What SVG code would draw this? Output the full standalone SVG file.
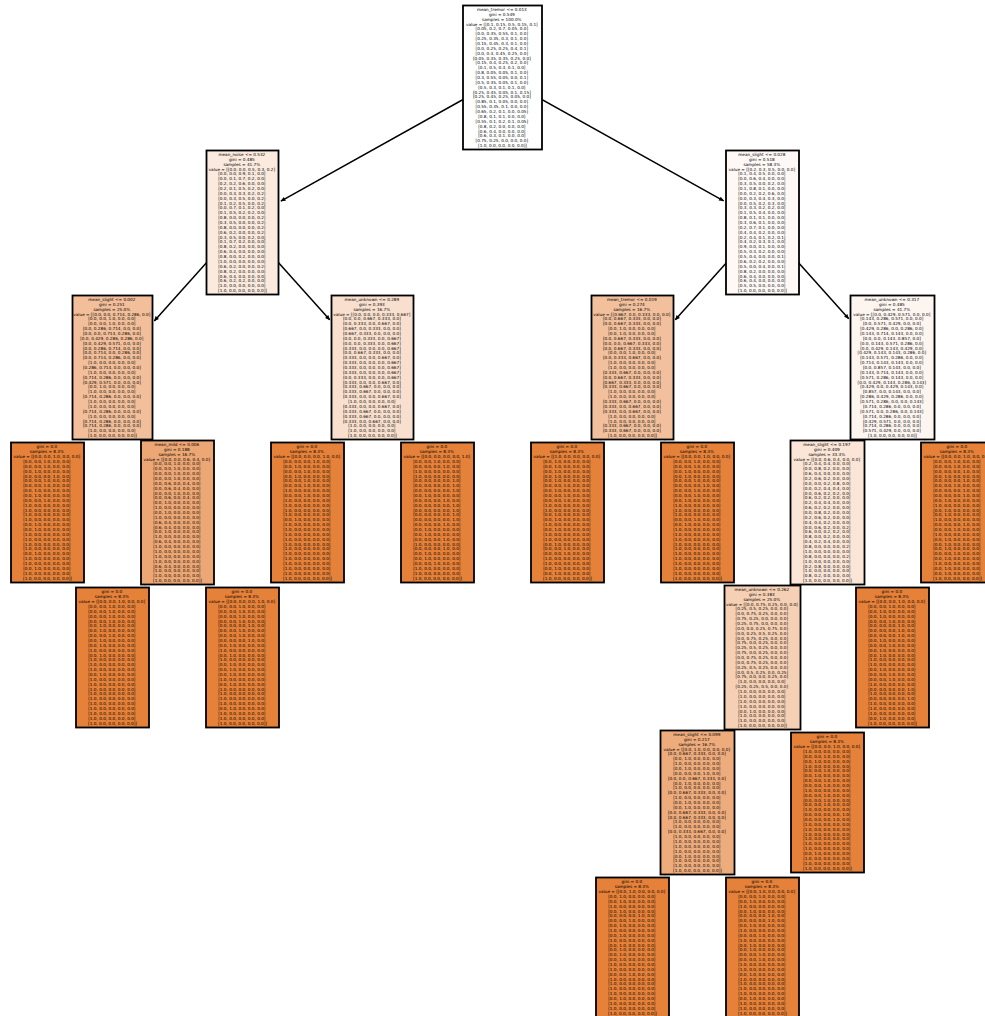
<svg xmlns="http://www.w3.org/2000/svg" width="985" height="1016" viewBox="0 0 985 1016">
<defs>
<style>
.box{stroke:#000;stroke-width:1.8}
.leaf{fill:#e58139}
.lbl{font-family:"DejaVu Sans","Liberation Sans",sans-serif;font-size:4.2px;text-anchor:middle;fill:#000}
.edge{stroke:#000;stroke-width:1.5;fill:none;marker-end:url(#head)}
</style>
<marker id="head" viewBox="-6 -3 7 6" refX="0" refY="0" markerWidth="7" markerHeight="6" markerUnits="userSpaceOnUse" orient="auto">
<path d="M-4.5,-2.2 L0.5,0 L-4.5,2.2 Z" fill="#000"/>
</marker>
</defs>
<rect width="985" height="1016" fill="#fff"/>

<!-- connectors: drawn first so that parent boxes cover their starting points -->
<g id="edges">
<path class="edge" d="M502.5,77.5 L280.9,201.1"/>
<path class="edge" d="M502.5,77.5 L723.6,200.8"/>
<path class="edge" d="M242.5,222.5 L154.3,320.9"/>
<path class="edge" d="M242.5,222.5 L329.7,319.8"/>
<path class="edge" d="M762.5,222.5 L675.3,319.8"/>
<path class="edge" d="M762.5,222.5 L848.7,318.7"/>
<path class="edge" d="M112.5,367.5 L80,440"/>
<path class="edge" d="M112.5,367.5 L144.1,438"/>
<path class="edge" d="M372.5,367.5 L340,440"/>
<path class="edge" d="M372.5,367.5 L405,440"/>
<path class="edge" d="M632.5,367.5 L600,440"/>
<path class="edge" d="M632.5,367.5 L665,440"/>
<path class="edge" d="M892.5,367.5 L860.9,438"/>
<path class="edge" d="M892.5,367.5 L925,440"/>
<path class="edge" d="M177.5,512.5 L145,585"/>
<path class="edge" d="M177.5,512.5 L210,585"/>
<path class="edge" d="M827.5,512.5 L795.9,583"/>
<path class="edge" d="M827.5,512.5 L860,585"/>
<path class="edge" d="M762.5,657.5 L730.9,728"/>
<path class="edge" d="M762.5,657.5 L795,730"/>
<path class="edge" d="M697.5,802.5 L665,875"/>
<path class="edge" d="M697.5,802.5 L730,875"/>
</g>

<g id="node-0">
<rect class="box" x="463" y="5.5" width="79" height="144" fill="#ffffff"/>
<text class="lbl">
<tspan x="502.5" y="11">mean_tremor &lt;= 0.013</tspan>
<tspan x="502.5" dy="4.86">gini = 0.549</tspan>
<tspan x="502.5" dy="4.86">samples = 100.0%</tspan>
<tspan x="502.5" dy="4.86">value = [[0.1, 0.15, 0.5, 0.15, 0.1]</tspan>
<tspan x="502.5" dy="4.86">[0.05, 0.2, 0.7, 0.05, 0.0]</tspan>
<tspan x="502.5" dy="4.86">[0.0, 0.35, 0.55, 0.1, 0.0]</tspan>
<tspan x="502.5" dy="4.86">[0.25, 0.35, 0.3, 0.1, 0.0]</tspan>
<tspan x="502.5" dy="4.86">[0.15, 0.45, 0.3, 0.1, 0.0]</tspan>
<tspan x="502.5" dy="4.86">[0.0, 0.25, 0.25, 0.4, 0.1]</tspan>
<tspan x="502.5" dy="4.86">[0.0, 0.3, 0.45, 0.25, 0.0]</tspan>
<tspan x="502.5" dy="4.86">[0.05, 0.35, 0.35, 0.25, 0.0]</tspan>
<tspan x="502.5" dy="4.86">[0.15, 0.4, 0.25, 0.2, 0.0]</tspan>
<tspan x="502.5" dy="4.86">[0.1, 0.5, 0.3, 0.1, 0.0]</tspan>
<tspan x="502.5" dy="4.86">[0.8, 0.05, 0.05, 0.1, 0.0]</tspan>
<tspan x="502.5" dy="4.86">[0.3, 0.55, 0.05, 0.0, 0.1]</tspan>
<tspan x="502.5" dy="4.86">[0.5, 0.35, 0.05, 0.1, 0.0]</tspan>
<tspan x="502.5" dy="4.86">[0.5, 0.3, 0.1, 0.1, 0.0]</tspan>
<tspan x="502.5" dy="4.86">[0.25, 0.45, 0.05, 0.1, 0.15]</tspan>
<tspan x="502.5" dy="4.86">[0.25, 0.45, 0.25, 0.05, 0.0]</tspan>
<tspan x="502.5" dy="4.86">[0.85, 0.1, 0.05, 0.0, 0.0]</tspan>
<tspan x="502.5" dy="4.86">[0.55, 0.35, 0.1, 0.0, 0.0]</tspan>
<tspan x="502.5" dy="4.86">[0.65, 0.2, 0.1, 0.0, 0.05]</tspan>
<tspan x="502.5" dy="4.86">[0.8, 0.1, 0.1, 0.0, 0.0]</tspan>
<tspan x="502.5" dy="4.86">[0.55, 0.1, 0.2, 0.1, 0.05]</tspan>
<tspan x="502.5" dy="4.86">[0.8, 0.2, 0.0, 0.0, 0.0]</tspan>
<tspan x="502.5" dy="4.86">[0.6, 0.4, 0.0, 0.0, 0.0]</tspan>
<tspan x="502.5" dy="4.86">[0.6, 0.3, 0.1, 0.0, 0.0]</tspan>
<tspan x="502.5" dy="4.86">[0.75, 0.25, 0.0, 0.0, 0.0]</tspan>
<tspan x="502.5" dy="4.86">[1.0, 0.0, 0.0, 0.0, 0.0]]</tspan>
</text>
</g>

<g id="node-1">
<rect class="box" x="206.5" y="150.5" width="72" height="144" fill="#fbeade"/>
<text class="lbl">
<tspan x="242.5" y="156">mean_noise &lt;= 0.532</tspan>
<tspan x="242.5" dy="4.86">gini = 0.485</tspan>
<tspan x="242.5" dy="4.86">samples = 41.7%</tspan>
<tspan x="242.5" dy="4.86">value = [[0.0, 0.0, 0.5, 0.3, 0.2]</tspan>
<tspan x="242.5" dy="4.86">[0.0, 0.0, 0.9, 0.1, 0.0]</tspan>
<tspan x="242.5" dy="4.86">[0.0, 0.1, 0.7, 0.2, 0.0]</tspan>
<tspan x="242.5" dy="4.86">[0.2, 0.2, 0.6, 0.0, 0.0]</tspan>
<tspan x="242.5" dy="4.86">[0.2, 0.1, 0.5, 0.2, 0.0]</tspan>
<tspan x="242.5" dy="4.86">[0.0, 0.3, 0.3, 0.2, 0.2]</tspan>
<tspan x="242.5" dy="4.86">[0.0, 0.3, 0.5, 0.0, 0.2]</tspan>
<tspan x="242.5" dy="4.86">[0.1, 0.2, 0.5, 0.0, 0.2]</tspan>
<tspan x="242.5" dy="4.86">[0.0, 0.7, 0.1, 0.2, 0.0]</tspan>
<tspan x="242.5" dy="4.86">[0.1, 0.5, 0.2, 0.2, 0.0]</tspan>
<tspan x="242.5" dy="4.86">[0.8, 0.0, 0.0, 0.0, 0.2]</tspan>
<tspan x="242.5" dy="4.86">[0.3, 0.5, 0.0, 0.0, 0.2]</tspan>
<tspan x="242.5" dy="4.86">[0.8, 0.0, 0.0, 0.0, 0.2]</tspan>
<tspan x="242.5" dy="4.86">[0.6, 0.2, 0.0, 0.0, 0.2]</tspan>
<tspan x="242.5" dy="4.86">[0.3, 0.5, 0.0, 0.2, 0.0]</tspan>
<tspan x="242.5" dy="4.86">[0.1, 0.7, 0.2, 0.0, 0.0]</tspan>
<tspan x="242.5" dy="4.86">[0.8, 0.2, 0.0, 0.0, 0.0]</tspan>
<tspan x="242.5" dy="4.86">[0.6, 0.4, 0.0, 0.0, 0.0]</tspan>
<tspan x="242.5" dy="4.86">[0.8, 0.0, 0.2, 0.0, 0.0]</tspan>
<tspan x="242.5" dy="4.86">[1.0, 0.0, 0.0, 0.0, 0.0]</tspan>
<tspan x="242.5" dy="4.86">[0.6, 0.2, 0.0, 0.0, 0.2]</tspan>
<tspan x="242.5" dy="4.86">[0.8, 0.2, 0.0, 0.0, 0.0]</tspan>
<tspan x="242.5" dy="4.86">[0.6, 0.4, 0.0, 0.0, 0.0]</tspan>
<tspan x="242.5" dy="4.86">[0.6, 0.2, 0.2, 0.0, 0.0]</tspan>
<tspan x="242.5" dy="4.86">[1.0, 0.0, 0.0, 0.0, 0.0]</tspan>
<tspan x="242.5" dy="4.86">[1.0, 0.0, 0.0, 0.0, 0.0]]</tspan>
</text>
</g>

<g id="node-2">
<rect class="box" x="726" y="150.5" width="73" height="144" fill="#fef9f6"/>
<text class="lbl">
<tspan x="762.5" y="156">mean_slight &lt;= 0.028</tspan>
<tspan x="762.5" dy="4.86">gini = 0.518</tspan>
<tspan x="762.5" dy="4.86">samples = 58.3%</tspan>
<tspan x="762.5" dy="4.86">value = [[0.2, 0.3, 0.5, 0.0, 0.0]</tspan>
<tspan x="762.5" dy="4.86">[0.1, 0.4, 0.5, 0.0, 0.0]</tspan>
<tspan x="762.5" dy="4.86">[0.0, 0.6, 0.4, 0.0, 0.0]</tspan>
<tspan x="762.5" dy="4.86">[0.3, 0.5, 0.0, 0.2, 0.0]</tspan>
<tspan x="762.5" dy="4.86">[0.1, 0.8, 0.1, 0.0, 0.0]</tspan>
<tspan x="762.5" dy="4.86">[0.0, 0.2, 0.2, 0.6, 0.0]</tspan>
<tspan x="762.5" dy="4.86">[0.0, 0.3, 0.4, 0.3, 0.0]</tspan>
<tspan x="762.5" dy="4.86">[0.0, 0.5, 0.2, 0.3, 0.0]</tspan>
<tspan x="762.5" dy="4.86">[0.3, 0.3, 0.2, 0.2, 0.0]</tspan>
<tspan x="762.5" dy="4.86">[0.1, 0.5, 0.4, 0.0, 0.0]</tspan>
<tspan x="762.5" dy="4.86">[0.8, 0.1, 0.1, 0.0, 0.0]</tspan>
<tspan x="762.5" dy="4.86">[0.3, 0.6, 0.1, 0.0, 0.0]</tspan>
<tspan x="762.5" dy="4.86">[0.2, 0.7, 0.1, 0.0, 0.0]</tspan>
<tspan x="762.5" dy="4.86">[0.4, 0.4, 0.2, 0.0, 0.0]</tspan>
<tspan x="762.5" dy="4.86">[0.2, 0.4, 0.1, 0.2, 0.1]</tspan>
<tspan x="762.5" dy="4.86">[0.4, 0.2, 0.3, 0.1, 0.0]</tspan>
<tspan x="762.5" dy="4.86">[0.9, 0.0, 0.1, 0.0, 0.0]</tspan>
<tspan x="762.5" dy="4.86">[0.5, 0.3, 0.2, 0.0, 0.0]</tspan>
<tspan x="762.5" dy="4.86">[0.5, 0.4, 0.0, 0.0, 0.1]</tspan>
<tspan x="762.5" dy="4.86">[0.6, 0.2, 0.2, 0.0, 0.0]</tspan>
<tspan x="762.5" dy="4.86">[0.5, 0.0, 0.4, 0.0, 0.1]</tspan>
<tspan x="762.5" dy="4.86">[0.8, 0.2, 0.0, 0.0, 0.0]</tspan>
<tspan x="762.5" dy="4.86">[0.6, 0.4, 0.0, 0.0, 0.0]</tspan>
<tspan x="762.5" dy="4.86">[0.6, 0.4, 0.0, 0.0, 0.0]</tspan>
<tspan x="762.5" dy="4.86">[0.5, 0.5, 0.0, 0.0, 0.0]</tspan>
<tspan x="762.5" dy="4.86">[1.0, 0.0, 0.0, 0.0, 0.0]]</tspan>
</text>
</g>

<g id="node-3">
<rect class="box" x="72.5" y="295.5" width="80" height="144" fill="#f2bf9a"/>
<text class="lbl">
<tspan x="112.5" y="301">mean_slight &lt;= 0.002</tspan>
<tspan x="112.5" dy="4.86">gini = 0.251</tspan>
<tspan x="112.5" dy="4.86">samples = 25.0%</tspan>
<tspan x="112.5" dy="4.86">value = [[0.0, 0.0, 0.714, 0.286, 0.0]</tspan>
<tspan x="112.5" dy="4.86">[0.0, 0.0, 1.0, 0.0, 0.0]</tspan>
<tspan x="112.5" dy="4.86">[0.0, 0.0, 1.0, 0.0, 0.0]</tspan>
<tspan x="112.5" dy="4.86">[0.0, 0.286, 0.714, 0.0, 0.0]</tspan>
<tspan x="112.5" dy="4.86">[0.0, 0.0, 0.714, 0.286, 0.0]</tspan>
<tspan x="112.5" dy="4.86">[0.0, 0.429, 0.286, 0.286, 0.0]</tspan>
<tspan x="112.5" dy="4.86">[0.0, 0.429, 0.571, 0.0, 0.0]</tspan>
<tspan x="112.5" dy="4.86">[0.0, 0.286, 0.714, 0.0, 0.0]</tspan>
<tspan x="112.5" dy="4.86">[0.0, 0.714, 0.0, 0.286, 0.0]</tspan>
<tspan x="112.5" dy="4.86">[0.0, 0.714, 0.286, 0.0, 0.0]</tspan>
<tspan x="112.5" dy="4.86">[1.0, 0.0, 0.0, 0.0, 0.0]</tspan>
<tspan x="112.5" dy="4.86">[0.286, 0.714, 0.0, 0.0, 0.0]</tspan>
<tspan x="112.5" dy="4.86">[1.0, 0.0, 0.0, 0.0, 0.0]</tspan>
<tspan x="112.5" dy="4.86">[0.714, 0.286, 0.0, 0.0, 0.0]</tspan>
<tspan x="112.5" dy="4.86">[0.429, 0.571, 0.0, 0.0, 0.0]</tspan>
<tspan x="112.5" dy="4.86">[0.0, 1.0, 0.0, 0.0, 0.0]</tspan>
<tspan x="112.5" dy="4.86">[1.0, 0.0, 0.0, 0.0, 0.0]</tspan>
<tspan x="112.5" dy="4.86">[0.714, 0.286, 0.0, 0.0, 0.0]</tspan>
<tspan x="112.5" dy="4.86">[1.0, 0.0, 0.0, 0.0, 0.0]</tspan>
<tspan x="112.5" dy="4.86">[1.0, 0.0, 0.0, 0.0, 0.0]</tspan>
<tspan x="112.5" dy="4.86">[0.714, 0.286, 0.0, 0.0, 0.0]</tspan>
<tspan x="112.5" dy="4.86">[1.0, 0.0, 0.0, 0.0, 0.0]</tspan>
<tspan x="112.5" dy="4.86">[0.714, 0.286, 0.0, 0.0, 0.0]</tspan>
<tspan x="112.5" dy="4.86">[0.714, 0.286, 0.0, 0.0, 0.0]</tspan>
<tspan x="112.5" dy="4.86">[1.0, 0.0, 0.0, 0.0, 0.0]</tspan>
<tspan x="112.5" dy="4.86">[1.0, 0.0, 0.0, 0.0, 0.0]]</tspan>
</text>
</g>

<g id="node-4">
<rect class="box" x="331.5" y="295.5" width="82" height="144" fill="#f9e0ce"/>
<text class="lbl">
<tspan x="372.5" y="301">mean_unknown &lt;= 0.289</tspan>
<tspan x="372.5" dy="4.86">gini = 0.393</tspan>
<tspan x="372.5" dy="4.86">samples = 16.7%</tspan>
<tspan x="372.5" dy="4.86">value = [[0.0, 0.0, 0.0, 0.333, 0.667]</tspan>
<tspan x="372.5" dy="4.86">[0.0, 0.0, 0.667, 0.333, 0.0]</tspan>
<tspan x="372.5" dy="4.86">[0.0, 0.333, 0.0, 0.667, 0.0]</tspan>
<tspan x="372.5" dy="4.86">[0.667, 0.0, 0.333, 0.0, 0.0]</tspan>
<tspan x="372.5" dy="4.86">[0.667, 0.333, 0.0, 0.0, 0.0]</tspan>
<tspan x="372.5" dy="4.86">[0.0, 0.0, 0.333, 0.0, 0.667]</tspan>
<tspan x="372.5" dy="4.86">[0.0, 0.0, 0.333, 0.0, 0.667]</tspan>
<tspan x="372.5" dy="4.86">[0.333, 0.0, 0.0, 0.0, 0.667]</tspan>
<tspan x="372.5" dy="4.86">[0.0, 0.667, 0.333, 0.0, 0.0]</tspan>
<tspan x="372.5" dy="4.86">[0.333, 0.0, 0.0, 0.667, 0.0]</tspan>
<tspan x="372.5" dy="4.86">[0.333, 0.0, 0.0, 0.0, 0.667]</tspan>
<tspan x="372.5" dy="4.86">[0.333, 0.0, 0.0, 0.0, 0.667]</tspan>
<tspan x="372.5" dy="4.86">[0.333, 0.0, 0.0, 0.0, 0.667]</tspan>
<tspan x="372.5" dy="4.86">[0.0, 0.333, 0.0, 0.0, 0.667]</tspan>
<tspan x="372.5" dy="4.86">[0.333, 0.0, 0.0, 0.667, 0.0]</tspan>
<tspan x="372.5" dy="4.86">[0.333, 0.667, 0.0, 0.0, 0.0]</tspan>
<tspan x="372.5" dy="4.86">[0.333, 0.667, 0.0, 0.0, 0.0]</tspan>
<tspan x="372.5" dy="4.86">[0.333, 0.0, 0.0, 0.667, 0.0]</tspan>
<tspan x="372.5" dy="4.86">[1.0, 0.0, 0.0, 0.0, 0.0]</tspan>
<tspan x="372.5" dy="4.86">[0.333, 0.0, 0.0, 0.667, 0.0]</tspan>
<tspan x="372.5" dy="4.86">[0.333, 0.667, 0.0, 0.0, 0.0]</tspan>
<tspan x="372.5" dy="4.86">[0.333, 0.667, 0.0, 0.0, 0.0]</tspan>
<tspan x="372.5" dy="4.86">[0.333, 0.0, 0.667, 0.0, 0.0]</tspan>
<tspan x="372.5" dy="4.86">[1.0, 0.0, 0.0, 0.0, 0.0]</tspan>
<tspan x="372.5" dy="4.86">[1.0, 0.0, 0.0, 0.0, 0.0]</tspan>
<tspan x="372.5" dy="4.86">[1.0, 0.0, 0.0, 0.0, 0.0]]</tspan>
</text>
</g>

<g id="node-5">
<rect class="box" x="591.5" y="295.5" width="82" height="144" fill="#f2c09c"/>
<text class="lbl">
<tspan x="632.5" y="301">mean_tremor &lt;= 0.019</tspan>
<tspan x="632.5" dy="4.86">gini = 0.274</tspan>
<tspan x="632.5" dy="4.86">samples = 16.7%</tspan>
<tspan x="632.5" dy="4.86">value = [[0.667, 0.0, 0.333, 0.0, 0.0]</tspan>
<tspan x="632.5" dy="4.86">[0.0, 0.667, 0.333, 0.0, 0.0]</tspan>
<tspan x="632.5" dy="4.86">[0.0, 0.667, 0.333, 0.0, 0.0]</tspan>
<tspan x="632.5" dy="4.86">[0.0, 1.0, 0.0, 0.0, 0.0]</tspan>
<tspan x="632.5" dy="4.86">[0.0, 1.0, 0.0, 0.0, 0.0]</tspan>
<tspan x="632.5" dy="4.86">[0.0, 0.667, 0.333, 0.0, 0.0]</tspan>
<tspan x="632.5" dy="4.86">[0.0, 0.0, 0.667, 0.333, 0.0]</tspan>
<tspan x="632.5" dy="4.86">[0.0, 0.667, 0.333, 0.0, 0.0]</tspan>
<tspan x="632.5" dy="4.86">[0.0, 0.0, 1.0, 0.0, 0.0]</tspan>
<tspan x="632.5" dy="4.86">[0.0, 0.333, 0.667, 0.0, 0.0]</tspan>
<tspan x="632.5" dy="4.86">[1.0, 0.0, 0.0, 0.0, 0.0]</tspan>
<tspan x="632.5" dy="4.86">[1.0, 0.0, 0.0, 0.0, 0.0]</tspan>
<tspan x="632.5" dy="4.86">[0.333, 0.667, 0.0, 0.0, 0.0]</tspan>
<tspan x="632.5" dy="4.86">[0.0, 0.667, 0.333, 0.0, 0.0]</tspan>
<tspan x="632.5" dy="4.86">[0.667, 0.333, 0.0, 0.0, 0.0]</tspan>
<tspan x="632.5" dy="4.86">[0.333, 0.667, 0.0, 0.0, 0.0]</tspan>
<tspan x="632.5" dy="4.86">[1.0, 0.0, 0.0, 0.0, 0.0]</tspan>
<tspan x="632.5" dy="4.86">[1.0, 0.0, 0.0, 0.0, 0.0]</tspan>
<tspan x="632.5" dy="4.86">[0.333, 0.667, 0.0, 0.0, 0.0]</tspan>
<tspan x="632.5" dy="4.86">[0.333, 0.0, 0.667, 0.0, 0.0]</tspan>
<tspan x="632.5" dy="4.86">[0.333, 0.0, 0.667, 0.0, 0.0]</tspan>
<tspan x="632.5" dy="4.86">[1.0, 0.0, 0.0, 0.0, 0.0]</tspan>
<tspan x="632.5" dy="4.86">[1.0, 0.0, 0.0, 0.0, 0.0]</tspan>
<tspan x="632.5" dy="4.86">[0.333, 0.667, 0.0, 0.0, 0.0]</tspan>
<tspan x="632.5" dy="4.86">[0.333, 0.667, 0.0, 0.0, 0.0]</tspan>
<tspan x="632.5" dy="4.86">[1.0, 0.0, 0.0, 0.0, 0.0]]</tspan>
</text>
</g>

<g id="node-6">
<rect class="box" x="850.5" y="295.5" width="84" height="144" fill="#fdf5f0"/>
<text class="lbl">
<tspan x="892.5" y="301">mean_unknown &lt;= 0.317</tspan>
<tspan x="892.5" dy="4.86">gini = 0.485</tspan>
<tspan x="892.5" dy="4.86">samples = 41.7%</tspan>
<tspan x="892.5" dy="4.86">value = [[0.0, 0.429, 0.571, 0.0, 0.0]</tspan>
<tspan x="892.5" dy="4.86">[0.143, 0.286, 0.571, 0.0, 0.0]</tspan>
<tspan x="892.5" dy="4.86">[0.0, 0.571, 0.429, 0.0, 0.0]</tspan>
<tspan x="892.5" dy="4.86">[0.429, 0.286, 0.0, 0.286, 0.0]</tspan>
<tspan x="892.5" dy="4.86">[0.143, 0.714, 0.143, 0.0, 0.0]</tspan>
<tspan x="892.5" dy="4.86">[0.0, 0.0, 0.143, 0.857, 0.0]</tspan>
<tspan x="892.5" dy="4.86">[0.0, 0.143, 0.571, 0.286, 0.0]</tspan>
<tspan x="892.5" dy="4.86">[0.0, 0.429, 0.143, 0.429, 0.0]</tspan>
<tspan x="892.5" dy="4.86">[0.429, 0.143, 0.143, 0.286, 0.0]</tspan>
<tspan x="892.5" dy="4.86">[0.143, 0.571, 0.286, 0.0, 0.0]</tspan>
<tspan x="892.5" dy="4.86">[0.714, 0.143, 0.143, 0.0, 0.0]</tspan>
<tspan x="892.5" dy="4.86">[0.0, 0.857, 0.143, 0.0, 0.0]</tspan>
<tspan x="892.5" dy="4.86">[0.143, 0.714, 0.143, 0.0, 0.0]</tspan>
<tspan x="892.5" dy="4.86">[0.571, 0.286, 0.143, 0.0, 0.0]</tspan>
<tspan x="892.5" dy="4.86">[0.0, 0.429, 0.143, 0.286, 0.143]</tspan>
<tspan x="892.5" dy="4.86">[0.429, 0.0, 0.429, 0.143, 0.0]</tspan>
<tspan x="892.5" dy="4.86">[0.857, 0.0, 0.143, 0.0, 0.0]</tspan>
<tspan x="892.5" dy="4.86">[0.286, 0.429, 0.286, 0.0, 0.0]</tspan>
<tspan x="892.5" dy="4.86">[0.571, 0.286, 0.0, 0.0, 0.143]</tspan>
<tspan x="892.5" dy="4.86">[0.714, 0.286, 0.0, 0.0, 0.0]</tspan>
<tspan x="892.5" dy="4.86">[0.571, 0.0, 0.286, 0.0, 0.143]</tspan>
<tspan x="892.5" dy="4.86">[0.714, 0.286, 0.0, 0.0, 0.0]</tspan>
<tspan x="892.5" dy="4.86">[0.429, 0.571, 0.0, 0.0, 0.0]</tspan>
<tspan x="892.5" dy="4.86">[0.714, 0.286, 0.0, 0.0, 0.0]</tspan>
<tspan x="892.5" dy="4.86">[0.571, 0.429, 0.0, 0.0, 0.0]</tspan>
<tspan x="892.5" dy="4.86">[1.0, 0.0, 0.0, 0.0, 0.0]]</tspan>
</text>
</g>

<g id="node-7">
<rect class="box leaf" x="11" y="442.5" width="73" height="140"/>
<text class="lbl">
<tspan x="47.5" y="448.4">gini = 0.0</tspan>
<tspan x="47.5" dy="4.86">samples = 8.3%</tspan>
<tspan x="47.5" dy="4.86">value = [[0.0, 0.0, 1.0, 0.0, 0.0]</tspan>
<tspan x="47.5" dy="4.86">[0.0, 0.0, 1.0, 0.0, 0.0]</tspan>
<tspan x="47.5" dy="4.86">[0.0, 0.0, 1.0, 0.0, 0.0]</tspan>
<tspan x="47.5" dy="4.86">[0.0, 1.0, 0.0, 0.0, 0.0]</tspan>
<tspan x="47.5" dy="4.86">[0.0, 0.0, 0.0, 1.0, 0.0]</tspan>
<tspan x="47.5" dy="4.86">[0.0, 0.0, 1.0, 0.0, 0.0]</tspan>
<tspan x="47.5" dy="4.86">[0.0, 0.0, 1.0, 0.0, 0.0]</tspan>
<tspan x="47.5" dy="4.86">[0.0, 1.0, 0.0, 0.0, 0.0]</tspan>
<tspan x="47.5" dy="4.86">[0.0, 1.0, 0.0, 0.0, 0.0]</tspan>
<tspan x="47.5" dy="4.86">[0.0, 0.0, 1.0, 0.0, 0.0]</tspan>
<tspan x="47.5" dy="4.86">[1.0, 0.0, 0.0, 0.0, 0.0]</tspan>
<tspan x="47.5" dy="4.86">[1.0, 0.0, 0.0, 0.0, 0.0]</tspan>
<tspan x="47.5" dy="4.86">[1.0, 0.0, 0.0, 0.0, 0.0]</tspan>
<tspan x="47.5" dy="4.86">[1.0, 0.0, 0.0, 0.0, 0.0]</tspan>
<tspan x="47.5" dy="4.86">[0.0, 1.0, 0.0, 0.0, 0.0]</tspan>
<tspan x="47.5" dy="4.86">[0.0, 1.0, 0.0, 0.0, 0.0]</tspan>
<tspan x="47.5" dy="4.86">[1.0, 0.0, 0.0, 0.0, 0.0]</tspan>
<tspan x="47.5" dy="4.86">[1.0, 0.0, 0.0, 0.0, 0.0]</tspan>
<tspan x="47.5" dy="4.86">[1.0, 0.0, 0.0, 0.0, 0.0]</tspan>
<tspan x="47.5" dy="4.86">[1.0, 0.0, 0.0, 0.0, 0.0]</tspan>
<tspan x="47.5" dy="4.86">[0.0, 1.0, 0.0, 0.0, 0.0]</tspan>
<tspan x="47.5" dy="4.86">[1.0, 0.0, 0.0, 0.0, 0.0]</tspan>
<tspan x="47.5" dy="4.86">[1.0, 0.0, 0.0, 0.0, 0.0]</tspan>
<tspan x="47.5" dy="4.86">[0.0, 1.0, 0.0, 0.0, 0.0]</tspan>
<tspan x="47.5" dy="4.86">[1.0, 0.0, 0.0, 0.0, 0.0]</tspan>
<tspan x="47.5" dy="4.86">[1.0, 0.0, 0.0, 0.0, 0.0]]</tspan>
</text>
</g>

<g id="node-8">
<rect class="box" x="141" y="440.5" width="73" height="144" fill="#eda774"/>
<text class="lbl">
<tspan x="177.5" y="446">mean_mild &lt;= 0.006</tspan>
<tspan x="177.5" dy="4.86">gini = 0.188</tspan>
<tspan x="177.5" dy="4.86">samples = 16.7%</tspan>
<tspan x="177.5" dy="4.86">value = [[0.0, 0.0, 0.6, 0.4, 0.0]</tspan>
<tspan x="177.5" dy="4.86">[0.0, 0.0, 1.0, 0.0, 0.0]</tspan>
<tspan x="177.5" dy="4.86">[0.0, 0.0, 1.0, 0.0, 0.0]</tspan>
<tspan x="177.5" dy="4.86">[0.0, 0.0, 1.0, 0.0, 0.0]</tspan>
<tspan x="177.5" dy="4.86">[0.0, 0.0, 1.0, 0.0, 0.0]</tspan>
<tspan x="177.5" dy="4.86">[0.0, 0.6, 0.0, 0.4, 0.0]</tspan>
<tspan x="177.5" dy="4.86">[0.0, 0.6, 0.4, 0.0, 0.0]</tspan>
<tspan x="177.5" dy="4.86">[0.0, 0.0, 1.0, 0.0, 0.0]</tspan>
<tspan x="177.5" dy="4.86">[0.0, 0.6, 0.0, 0.4, 0.0]</tspan>
<tspan x="177.5" dy="4.86">[0.0, 1.0, 0.0, 0.0, 0.0]</tspan>
<tspan x="177.5" dy="4.86">[1.0, 0.0, 0.0, 0.0, 0.0]</tspan>
<tspan x="177.5" dy="4.86">[0.0, 1.0, 0.0, 0.0, 0.0]</tspan>
<tspan x="177.5" dy="4.86">[1.0, 0.0, 0.0, 0.0, 0.0]</tspan>
<tspan x="177.5" dy="4.86">[0.6, 0.4, 0.0, 0.0, 0.0]</tspan>
<tspan x="177.5" dy="4.86">[0.6, 0.4, 0.0, 0.0, 0.0]</tspan>
<tspan x="177.5" dy="4.86">[0.0, 1.0, 0.0, 0.0, 0.0]</tspan>
<tspan x="177.5" dy="4.86">[1.0, 0.0, 0.0, 0.0, 0.0]</tspan>
<tspan x="177.5" dy="4.86">[0.6, 0.4, 0.0, 0.0, 0.0]</tspan>
<tspan x="177.5" dy="4.86">[1.0, 0.0, 0.0, 0.0, 0.0]</tspan>
<tspan x="177.5" dy="4.86">[1.0, 0.0, 0.0, 0.0, 0.0]</tspan>
<tspan x="177.5" dy="4.86">[1.0, 0.0, 0.0, 0.0, 0.0]</tspan>
<tspan x="177.5" dy="4.86">[1.0, 0.0, 0.0, 0.0, 0.0]</tspan>
<tspan x="177.5" dy="4.86">[0.6, 0.4, 0.0, 0.0, 0.0]</tspan>
<tspan x="177.5" dy="4.86">[1.0, 0.0, 0.0, 0.0, 0.0]</tspan>
<tspan x="177.5" dy="4.86">[1.0, 0.0, 0.0, 0.0, 0.0]</tspan>
<tspan x="177.5" dy="4.86">[1.0, 0.0, 0.0, 0.0, 0.0]]</tspan>
</text>
</g>

<g id="node-9">
<rect class="box leaf" x="271" y="442.5" width="73" height="140"/>
<text class="lbl">
<tspan x="307.5" y="448.4">gini = 0.0</tspan>
<tspan x="307.5" dy="4.86">samples = 8.3%</tspan>
<tspan x="307.5" dy="4.86">value = [[0.0, 0.0, 0.0, 1.0, 0.0]</tspan>
<tspan x="307.5" dy="4.86">[0.0, 0.0, 0.0, 1.0, 0.0]</tspan>
<tspan x="307.5" dy="4.86">[0.0, 1.0, 0.0, 0.0, 0.0]</tspan>
<tspan x="307.5" dy="4.86">[0.0, 0.0, 1.0, 0.0, 0.0]</tspan>
<tspan x="307.5" dy="4.86">[0.0, 1.0, 0.0, 0.0, 0.0]</tspan>
<tspan x="307.5" dy="4.86">[0.0, 0.0, 1.0, 0.0, 0.0]</tspan>
<tspan x="307.5" dy="4.86">[0.0, 0.0, 1.0, 0.0, 0.0]</tspan>
<tspan x="307.5" dy="4.86">[1.0, 0.0, 0.0, 0.0, 0.0]</tspan>
<tspan x="307.5" dy="4.86">[0.0, 0.0, 1.0, 0.0, 0.0]</tspan>
<tspan x="307.5" dy="4.86">[1.0, 0.0, 0.0, 0.0, 0.0]</tspan>
<tspan x="307.5" dy="4.86">[1.0, 0.0, 0.0, 0.0, 0.0]</tspan>
<tspan x="307.5" dy="4.86">[1.0, 0.0, 0.0, 0.0, 0.0]</tspan>
<tspan x="307.5" dy="4.86">[1.0, 0.0, 0.0, 0.0, 0.0]</tspan>
<tspan x="307.5" dy="4.86">[0.0, 1.0, 0.0, 0.0, 0.0]</tspan>
<tspan x="307.5" dy="4.86">[1.0, 0.0, 0.0, 0.0, 0.0]</tspan>
<tspan x="307.5" dy="4.86">[1.0, 0.0, 0.0, 0.0, 0.0]</tspan>
<tspan x="307.5" dy="4.86">[1.0, 0.0, 0.0, 0.0, 0.0]</tspan>
<tspan x="307.5" dy="4.86">[1.0, 0.0, 0.0, 0.0, 0.0]</tspan>
<tspan x="307.5" dy="4.86">[1.0, 0.0, 0.0, 0.0, 0.0]</tspan>
<tspan x="307.5" dy="4.86">[1.0, 0.0, 0.0, 0.0, 0.0]</tspan>
<tspan x="307.5" dy="4.86">[1.0, 0.0, 0.0, 0.0, 0.0]</tspan>
<tspan x="307.5" dy="4.86">[1.0, 0.0, 0.0, 0.0, 0.0]</tspan>
<tspan x="307.5" dy="4.86">[1.0, 0.0, 0.0, 0.0, 0.0]</tspan>
<tspan x="307.5" dy="4.86">[1.0, 0.0, 0.0, 0.0, 0.0]</tspan>
<tspan x="307.5" dy="4.86">[1.0, 0.0, 0.0, 0.0, 0.0]</tspan>
<tspan x="307.5" dy="4.86">[1.0, 0.0, 0.0, 0.0, 0.0]]</tspan>
</text>
</g>

<g id="node-10">
<rect class="box leaf" x="401" y="442.5" width="73" height="140"/>
<text class="lbl">
<tspan x="437.5" y="448.4">gini = 0.0</tspan>
<tspan x="437.5" dy="4.86">samples = 8.3%</tspan>
<tspan x="437.5" dy="4.86">value = [[0.0, 0.0, 0.0, 0.0, 1.0]</tspan>
<tspan x="437.5" dy="4.86">[0.0, 0.0, 1.0, 0.0, 0.0]</tspan>
<tspan x="437.5" dy="4.86">[0.0, 0.0, 0.0, 1.0, 0.0]</tspan>
<tspan x="437.5" dy="4.86">[1.0, 0.0, 0.0, 0.0, 0.0]</tspan>
<tspan x="437.5" dy="4.86">[1.0, 0.0, 0.0, 0.0, 0.0]</tspan>
<tspan x="437.5" dy="4.86">[0.0, 0.0, 0.0, 0.0, 1.0]</tspan>
<tspan x="437.5" dy="4.86">[0.0, 0.0, 0.0, 0.0, 1.0]</tspan>
<tspan x="437.5" dy="4.86">[0.0, 0.0, 0.0, 0.0, 1.0]</tspan>
<tspan x="437.5" dy="4.86">[0.0, 1.0, 0.0, 0.0, 0.0]</tspan>
<tspan x="437.5" dy="4.86">[0.0, 0.0, 0.0, 1.0, 0.0]</tspan>
<tspan x="437.5" dy="4.86">[0.0, 0.0, 0.0, 0.0, 1.0]</tspan>
<tspan x="437.5" dy="4.86">[0.0, 0.0, 0.0, 0.0, 1.0]</tspan>
<tspan x="437.5" dy="4.86">[0.0, 0.0, 0.0, 0.0, 1.0]</tspan>
<tspan x="437.5" dy="4.86">[0.0, 0.0, 0.0, 0.0, 1.0]</tspan>
<tspan x="437.5" dy="4.86">[0.0, 0.0, 0.0, 1.0, 0.0]</tspan>
<tspan x="437.5" dy="4.86">[0.0, 1.0, 0.0, 0.0, 0.0]</tspan>
<tspan x="437.5" dy="4.86">[0.0, 1.0, 0.0, 0.0, 0.0]</tspan>
<tspan x="437.5" dy="4.86">[0.0, 0.0, 0.0, 1.0, 0.0]</tspan>
<tspan x="437.5" dy="4.86">[1.0, 0.0, 0.0, 0.0, 0.0]</tspan>
<tspan x="437.5" dy="4.86">[0.0, 0.0, 0.0, 1.0, 0.0]</tspan>
<tspan x="437.5" dy="4.86">[0.0, 1.0, 0.0, 0.0, 0.0]</tspan>
<tspan x="437.5" dy="4.86">[0.0, 1.0, 0.0, 0.0, 0.0]</tspan>
<tspan x="437.5" dy="4.86">[0.0, 0.0, 1.0, 0.0, 0.0]</tspan>
<tspan x="437.5" dy="4.86">[1.0, 0.0, 0.0, 0.0, 0.0]</tspan>
<tspan x="437.5" dy="4.86">[1.0, 0.0, 0.0, 0.0, 0.0]</tspan>
<tspan x="437.5" dy="4.86">[1.0, 0.0, 0.0, 0.0, 0.0]]</tspan>
</text>
</g>

<g id="node-11">
<rect class="box leaf" x="531" y="442.5" width="73" height="140"/>
<text class="lbl">
<tspan x="567.5" y="448.4">gini = 0.0</tspan>
<tspan x="567.5" dy="4.86">samples = 8.3%</tspan>
<tspan x="567.5" dy="4.86">value = [[1.0, 0.0, 0.0, 0.0, 0.0]</tspan>
<tspan x="567.5" dy="4.86">[0.0, 1.0, 0.0, 0.0, 0.0]</tspan>
<tspan x="567.5" dy="4.86">[0.0, 1.0, 0.0, 0.0, 0.0]</tspan>
<tspan x="567.5" dy="4.86">[0.0, 1.0, 0.0, 0.0, 0.0]</tspan>
<tspan x="567.5" dy="4.86">[0.0, 1.0, 0.0, 0.0, 0.0]</tspan>
<tspan x="567.5" dy="4.86">[0.0, 1.0, 0.0, 0.0, 0.0]</tspan>
<tspan x="567.5" dy="4.86">[0.0, 0.0, 1.0, 0.0, 0.0]</tspan>
<tspan x="567.5" dy="4.86">[0.0, 1.0, 0.0, 0.0, 0.0]</tspan>
<tspan x="567.5" dy="4.86">[0.0, 0.0, 1.0, 0.0, 0.0]</tspan>
<tspan x="567.5" dy="4.86">[0.0, 0.0, 1.0, 0.0, 0.0]</tspan>
<tspan x="567.5" dy="4.86">[1.0, 0.0, 0.0, 0.0, 0.0]</tspan>
<tspan x="567.5" dy="4.86">[1.0, 0.0, 0.0, 0.0, 0.0]</tspan>
<tspan x="567.5" dy="4.86">[0.0, 1.0, 0.0, 0.0, 0.0]</tspan>
<tspan x="567.5" dy="4.86">[0.0, 1.0, 0.0, 0.0, 0.0]</tspan>
<tspan x="567.5" dy="4.86">[1.0, 0.0, 0.0, 0.0, 0.0]</tspan>
<tspan x="567.5" dy="4.86">[0.0, 1.0, 0.0, 0.0, 0.0]</tspan>
<tspan x="567.5" dy="4.86">[1.0, 0.0, 0.0, 0.0, 0.0]</tspan>
<tspan x="567.5" dy="4.86">[1.0, 0.0, 0.0, 0.0, 0.0]</tspan>
<tspan x="567.5" dy="4.86">[0.0, 1.0, 0.0, 0.0, 0.0]</tspan>
<tspan x="567.5" dy="4.86">[0.0, 0.0, 1.0, 0.0, 0.0]</tspan>
<tspan x="567.5" dy="4.86">[0.0, 0.0, 1.0, 0.0, 0.0]</tspan>
<tspan x="567.5" dy="4.86">[1.0, 0.0, 0.0, 0.0, 0.0]</tspan>
<tspan x="567.5" dy="4.86">[1.0, 0.0, 0.0, 0.0, 0.0]</tspan>
<tspan x="567.5" dy="4.86">[0.0, 1.0, 0.0, 0.0, 0.0]</tspan>
<tspan x="567.5" dy="4.86">[0.0, 1.0, 0.0, 0.0, 0.0]</tspan>
<tspan x="567.5" dy="4.86">[1.0, 0.0, 0.0, 0.0, 0.0]]</tspan>
</text>
</g>

<g id="node-12">
<rect class="box leaf" x="661" y="442.5" width="73" height="140"/>
<text class="lbl">
<tspan x="697.5" y="448.4">gini = 0.0</tspan>
<tspan x="697.5" dy="4.86">samples = 8.3%</tspan>
<tspan x="697.5" dy="4.86">value = [[0.0, 0.0, 1.0, 0.0, 0.0]</tspan>
<tspan x="697.5" dy="4.86">[0.0, 0.0, 1.0, 0.0, 0.0]</tspan>
<tspan x="697.5" dy="4.86">[0.0, 0.0, 1.0, 0.0, 0.0]</tspan>
<tspan x="697.5" dy="4.86">[0.0, 1.0, 0.0, 0.0, 0.0]</tspan>
<tspan x="697.5" dy="4.86">[0.0, 1.0, 0.0, 0.0, 0.0]</tspan>
<tspan x="697.5" dy="4.86">[0.0, 0.0, 1.0, 0.0, 0.0]</tspan>
<tspan x="697.5" dy="4.86">[0.0, 0.0, 0.0, 1.0, 0.0]</tspan>
<tspan x="697.5" dy="4.86">[0.0, 0.0, 1.0, 0.0, 0.0]</tspan>
<tspan x="697.5" dy="4.86">[0.0, 0.0, 1.0, 0.0, 0.0]</tspan>
<tspan x="697.5" dy="4.86">[0.0, 1.0, 0.0, 0.0, 0.0]</tspan>
<tspan x="697.5" dy="4.86">[1.0, 0.0, 0.0, 0.0, 0.0]</tspan>
<tspan x="697.5" dy="4.86">[1.0, 0.0, 0.0, 0.0, 0.0]</tspan>
<tspan x="697.5" dy="4.86">[1.0, 0.0, 0.0, 0.0, 0.0]</tspan>
<tspan x="697.5" dy="4.86">[0.0, 0.0, 1.0, 0.0, 0.0]</tspan>
<tspan x="697.5" dy="4.86">[0.0, 1.0, 0.0, 0.0, 0.0]</tspan>
<tspan x="697.5" dy="4.86">[1.0, 0.0, 0.0, 0.0, 0.0]</tspan>
<tspan x="697.5" dy="4.86">[1.0, 0.0, 0.0, 0.0, 0.0]</tspan>
<tspan x="697.5" dy="4.86">[1.0, 0.0, 0.0, 0.0, 0.0]</tspan>
<tspan x="697.5" dy="4.86">[1.0, 0.0, 0.0, 0.0, 0.0]</tspan>
<tspan x="697.5" dy="4.86">[1.0, 0.0, 0.0, 0.0, 0.0]</tspan>
<tspan x="697.5" dy="4.86">[1.0, 0.0, 0.0, 0.0, 0.0]</tspan>
<tspan x="697.5" dy="4.86">[1.0, 0.0, 0.0, 0.0, 0.0]</tspan>
<tspan x="697.5" dy="4.86">[1.0, 0.0, 0.0, 0.0, 0.0]</tspan>
<tspan x="697.5" dy="4.86">[1.0, 0.0, 0.0, 0.0, 0.0]</tspan>
<tspan x="697.5" dy="4.86">[1.0, 0.0, 0.0, 0.0, 0.0]</tspan>
<tspan x="697.5" dy="4.86">[1.0, 0.0, 0.0, 0.0, 0.0]]</tspan>
</text>
</g>

<g id="node-13">
<rect class="box" x="790.5" y="440.5" width="74" height="144" fill="#fae5d6"/>
<text class="lbl">
<tspan x="827.5" y="446">mean_slight &lt;= 0.197</tspan>
<tspan x="827.5" dy="4.86">gini = 0.409</tspan>
<tspan x="827.5" dy="4.86">samples = 33.3%</tspan>
<tspan x="827.5" dy="4.86">value = [[0.0, 0.6, 0.4, 0.0, 0.0]</tspan>
<tspan x="827.5" dy="4.86">[0.2, 0.4, 0.4, 0.0, 0.0]</tspan>
<tspan x="827.5" dy="4.86">[0.0, 0.8, 0.2, 0.0, 0.0]</tspan>
<tspan x="827.5" dy="4.86">[0.6, 0.4, 0.0, 0.0, 0.0]</tspan>
<tspan x="827.5" dy="4.86">[0.2, 0.6, 0.2, 0.0, 0.0]</tspan>
<tspan x="827.5" dy="4.86">[0.0, 0.0, 0.2, 0.8, 0.0]</tspan>
<tspan x="827.5" dy="4.86">[0.0, 0.2, 0.4, 0.4, 0.0]</tspan>
<tspan x="827.5" dy="4.86">[0.0, 0.6, 0.2, 0.2, 0.0]</tspan>
<tspan x="827.5" dy="4.86">[0.6, 0.2, 0.2, 0.0, 0.0]</tspan>
<tspan x="827.5" dy="4.86">[0.2, 0.4, 0.4, 0.0, 0.0]</tspan>
<tspan x="827.5" dy="4.86">[0.6, 0.2, 0.2, 0.0, 0.0]</tspan>
<tspan x="827.5" dy="4.86">[0.0, 0.8, 0.2, 0.0, 0.0]</tspan>
<tspan x="827.5" dy="4.86">[0.2, 0.6, 0.2, 0.0, 0.0]</tspan>
<tspan x="827.5" dy="4.86">[0.4, 0.4, 0.2, 0.0, 0.0]</tspan>
<tspan x="827.5" dy="4.86">[0.0, 0.6, 0.2, 0.0, 0.2]</tspan>
<tspan x="827.5" dy="4.86">[0.6, 0.0, 0.2, 0.2, 0.0]</tspan>
<tspan x="827.5" dy="4.86">[0.8, 0.0, 0.2, 0.0, 0.0]</tspan>
<tspan x="827.5" dy="4.86">[0.4, 0.2, 0.4, 0.0, 0.0]</tspan>
<tspan x="827.5" dy="4.86">[0.8, 0.0, 0.0, 0.0, 0.2]</tspan>
<tspan x="827.5" dy="4.86">[1.0, 0.0, 0.0, 0.0, 0.0]</tspan>
<tspan x="827.5" dy="4.86">[0.8, 0.0, 0.0, 0.0, 0.2]</tspan>
<tspan x="827.5" dy="4.86">[1.0, 0.0, 0.0, 0.0, 0.0]</tspan>
<tspan x="827.5" dy="4.86">[0.2, 0.8, 0.0, 0.0, 0.0]</tspan>
<tspan x="827.5" dy="4.86">[1.0, 0.0, 0.0, 0.0, 0.0]</tspan>
<tspan x="827.5" dy="4.86">[0.8, 0.2, 0.0, 0.0, 0.0]</tspan>
<tspan x="827.5" dy="4.86">[1.0, 0.0, 0.0, 0.0, 0.0]]</tspan>
</text>
</g>

<g id="node-14">
<rect class="box leaf" x="921" y="442.5" width="73" height="140"/>
<text class="lbl">
<tspan x="957.5" y="448.4">gini = 0.0</tspan>
<tspan x="957.5" dy="4.86">samples = 8.3%</tspan>
<tspan x="957.5" dy="4.86">value = [[0.0, 0.0, 1.0, 0.0, 0.0]</tspan>
<tspan x="957.5" dy="4.86">[0.0, 0.0, 1.0, 0.0, 0.0]</tspan>
<tspan x="957.5" dy="4.86">[0.0, 0.0, 1.0, 0.0, 0.0]</tspan>
<tspan x="957.5" dy="4.86">[0.0, 0.0, 0.0, 1.0, 0.0]</tspan>
<tspan x="957.5" dy="4.86">[0.0, 1.0, 0.0, 0.0, 0.0]</tspan>
<tspan x="957.5" dy="4.86">[0.0, 0.0, 0.0, 1.0, 0.0]</tspan>
<tspan x="957.5" dy="4.86">[0.0, 0.0, 1.0, 0.0, 0.0]</tspan>
<tspan x="957.5" dy="4.86">[0.0, 0.0, 0.0, 1.0, 0.0]</tspan>
<tspan x="957.5" dy="4.86">[0.0, 0.0, 0.0, 1.0, 0.0]</tspan>
<tspan x="957.5" dy="4.86">[0.0, 1.0, 0.0, 0.0, 0.0]</tspan>
<tspan x="957.5" dy="4.86">[1.0, 0.0, 0.0, 0.0, 0.0]</tspan>
<tspan x="957.5" dy="4.86">[0.0, 1.0, 0.0, 0.0, 0.0]</tspan>
<tspan x="957.5" dy="4.86">[0.0, 1.0, 0.0, 0.0, 0.0]</tspan>
<tspan x="957.5" dy="4.86">[1.0, 0.0, 0.0, 0.0, 0.0]</tspan>
<tspan x="957.5" dy="4.86">[0.0, 0.0, 0.0, 1.0, 0.0]</tspan>
<tspan x="957.5" dy="4.86">[0.0, 0.0, 1.0, 0.0, 0.0]</tspan>
<tspan x="957.5" dy="4.86">[1.0, 0.0, 0.0, 0.0, 0.0]</tspan>
<tspan x="957.5" dy="4.86">[0.0, 1.0, 0.0, 0.0, 0.0]</tspan>
<tspan x="957.5" dy="4.86">[0.0, 1.0, 0.0, 0.0, 0.0]</tspan>
<tspan x="957.5" dy="4.86">[0.0, 1.0, 0.0, 0.0, 0.0]</tspan>
<tspan x="957.5" dy="4.86">[0.0, 0.0, 1.0, 0.0, 0.0]</tspan>
<tspan x="957.5" dy="4.86">[0.0, 1.0, 0.0, 0.0, 0.0]</tspan>
<tspan x="957.5" dy="4.86">[1.0, 0.0, 0.0, 0.0, 0.0]</tspan>
<tspan x="957.5" dy="4.86">[0.0, 1.0, 0.0, 0.0, 0.0]</tspan>
<tspan x="957.5" dy="4.86">[0.0, 1.0, 0.0, 0.0, 0.0]</tspan>
<tspan x="957.5" dy="4.86">[1.0, 0.0, 0.0, 0.0, 0.0]]</tspan>
</text>
</g>

<g id="node-15">
<rect class="box leaf" x="76" y="587.5" width="73" height="140"/>
<text class="lbl">
<tspan x="112.5" y="593.4">gini = 0.0</tspan>
<tspan x="112.5" dy="4.86">samples = 8.3%</tspan>
<tspan x="112.5" dy="4.86">value = [[0.0, 0.0, 1.0, 0.0, 0.0]</tspan>
<tspan x="112.5" dy="4.86">[0.0, 0.0, 1.0, 0.0, 0.0]</tspan>
<tspan x="112.5" dy="4.86">[0.0, 0.0, 1.0, 0.0, 0.0]</tspan>
<tspan x="112.5" dy="4.86">[0.0, 0.0, 1.0, 0.0, 0.0]</tspan>
<tspan x="112.5" dy="4.86">[0.0, 0.0, 1.0, 0.0, 0.0]</tspan>
<tspan x="112.5" dy="4.86">[0.0, 1.0, 0.0, 0.0, 0.0]</tspan>
<tspan x="112.5" dy="4.86">[0.0, 1.0, 0.0, 0.0, 0.0]</tspan>
<tspan x="112.5" dy="4.86">[0.0, 0.0, 1.0, 0.0, 0.0]</tspan>
<tspan x="112.5" dy="4.86">[0.0, 1.0, 0.0, 0.0, 0.0]</tspan>
<tspan x="112.5" dy="4.86">[0.0, 1.0, 0.0, 0.0, 0.0]</tspan>
<tspan x="112.5" dy="4.86">[1.0, 0.0, 0.0, 0.0, 0.0]</tspan>
<tspan x="112.5" dy="4.86">[0.0, 1.0, 0.0, 0.0, 0.0]</tspan>
<tspan x="112.5" dy="4.86">[1.0, 0.0, 0.0, 0.0, 0.0]</tspan>
<tspan x="112.5" dy="4.86">[1.0, 0.0, 0.0, 0.0, 0.0]</tspan>
<tspan x="112.5" dy="4.86">[1.0, 0.0, 0.0, 0.0, 0.0]</tspan>
<tspan x="112.5" dy="4.86">[0.0, 1.0, 0.0, 0.0, 0.0]</tspan>
<tspan x="112.5" dy="4.86">[1.0, 0.0, 0.0, 0.0, 0.0]</tspan>
<tspan x="112.5" dy="4.86">[1.0, 0.0, 0.0, 0.0, 0.0]</tspan>
<tspan x="112.5" dy="4.86">[1.0, 0.0, 0.0, 0.0, 0.0]</tspan>
<tspan x="112.5" dy="4.86">[1.0, 0.0, 0.0, 0.0, 0.0]</tspan>
<tspan x="112.5" dy="4.86">[1.0, 0.0, 0.0, 0.0, 0.0]</tspan>
<tspan x="112.5" dy="4.86">[1.0, 0.0, 0.0, 0.0, 0.0]</tspan>
<tspan x="112.5" dy="4.86">[1.0, 0.0, 0.0, 0.0, 0.0]</tspan>
<tspan x="112.5" dy="4.86">[1.0, 0.0, 0.0, 0.0, 0.0]</tspan>
<tspan x="112.5" dy="4.86">[1.0, 0.0, 0.0, 0.0, 0.0]</tspan>
<tspan x="112.5" dy="4.86">[1.0, 0.0, 0.0, 0.0, 0.0]]</tspan>
</text>
</g>

<g id="node-16">
<rect class="box leaf" x="206" y="587.5" width="73" height="140"/>
<text class="lbl">
<tspan x="242.5" y="593.4">gini = 0.0</tspan>
<tspan x="242.5" dy="4.86">samples = 8.3%</tspan>
<tspan x="242.5" dy="4.86">value = [[0.0, 0.0, 0.0, 1.0, 0.0]</tspan>
<tspan x="242.5" dy="4.86">[0.0, 0.0, 1.0, 0.0, 0.0]</tspan>
<tspan x="242.5" dy="4.86">[0.0, 0.0, 1.0, 0.0, 0.0]</tspan>
<tspan x="242.5" dy="4.86">[0.0, 0.0, 1.0, 0.0, 0.0]</tspan>
<tspan x="242.5" dy="4.86">[0.0, 0.0, 1.0, 0.0, 0.0]</tspan>
<tspan x="242.5" dy="4.86">[0.0, 0.0, 0.0, 1.0, 0.0]</tspan>
<tspan x="242.5" dy="4.86">[0.0, 0.0, 1.0, 0.0, 0.0]</tspan>
<tspan x="242.5" dy="4.86">[0.0, 0.0, 1.0, 0.0, 0.0]</tspan>
<tspan x="242.5" dy="4.86">[0.0, 0.0, 0.0, 1.0, 0.0]</tspan>
<tspan x="242.5" dy="4.86">[0.0, 1.0, 0.0, 0.0, 0.0]</tspan>
<tspan x="242.5" dy="4.86">[1.0, 0.0, 0.0, 0.0, 0.0]</tspan>
<tspan x="242.5" dy="4.86">[0.0, 1.0, 0.0, 0.0, 0.0]</tspan>
<tspan x="242.5" dy="4.86">[1.0, 0.0, 0.0, 0.0, 0.0]</tspan>
<tspan x="242.5" dy="4.86">[0.0, 1.0, 0.0, 0.0, 0.0]</tspan>
<tspan x="242.5" dy="4.86">[0.0, 1.0, 0.0, 0.0, 0.0]</tspan>
<tspan x="242.5" dy="4.86">[0.0, 1.0, 0.0, 0.0, 0.0]</tspan>
<tspan x="242.5" dy="4.86">[1.0, 0.0, 0.0, 0.0, 0.0]</tspan>
<tspan x="242.5" dy="4.86">[0.0, 1.0, 0.0, 0.0, 0.0]</tspan>
<tspan x="242.5" dy="4.86">[1.0, 0.0, 0.0, 0.0, 0.0]</tspan>
<tspan x="242.5" dy="4.86">[1.0, 0.0, 0.0, 0.0, 0.0]</tspan>
<tspan x="242.5" dy="4.86">[1.0, 0.0, 0.0, 0.0, 0.0]</tspan>
<tspan x="242.5" dy="4.86">[1.0, 0.0, 0.0, 0.0, 0.0]</tspan>
<tspan x="242.5" dy="4.86">[0.0, 1.0, 0.0, 0.0, 0.0]</tspan>
<tspan x="242.5" dy="4.86">[1.0, 0.0, 0.0, 0.0, 0.0]</tspan>
<tspan x="242.5" dy="4.86">[1.0, 0.0, 0.0, 0.0, 0.0]</tspan>
<tspan x="242.5" dy="4.86">[1.0, 0.0, 0.0, 0.0, 0.0]]</tspan>
</text>
</g>

<g id="node-17">
<rect class="box" x="724.5" y="585.5" width="76" height="144" fill="#f6d0b4"/>
<text class="lbl">
<tspan x="762.5" y="591">mean_unknown &lt;= 0.262</tspan>
<tspan x="762.5" dy="4.86">gini = 0.383</tspan>
<tspan x="762.5" dy="4.86">samples = 25.0%</tspan>
<tspan x="762.5" dy="4.86">value = [[0.0, 0.75, 0.25, 0.0, 0.0]</tspan>
<tspan x="762.5" dy="4.86">[0.25, 0.5, 0.25, 0.0, 0.0]</tspan>
<tspan x="762.5" dy="4.86">[0.0, 0.75, 0.25, 0.0, 0.0]</tspan>
<tspan x="762.5" dy="4.86">[0.75, 0.25, 0.0, 0.0, 0.0]</tspan>
<tspan x="762.5" dy="4.86">[0.25, 0.75, 0.0, 0.0, 0.0]</tspan>
<tspan x="762.5" dy="4.86">[0.0, 0.0, 0.25, 0.75, 0.0]</tspan>
<tspan x="762.5" dy="4.86">[0.0, 0.25, 0.5, 0.25, 0.0]</tspan>
<tspan x="762.5" dy="4.86">[0.0, 0.75, 0.25, 0.0, 0.0]</tspan>
<tspan x="762.5" dy="4.86">[0.75, 0.0, 0.25, 0.0, 0.0]</tspan>
<tspan x="762.5" dy="4.86">[0.25, 0.5, 0.25, 0.0, 0.0]</tspan>
<tspan x="762.5" dy="4.86">[0.75, 0.0, 0.25, 0.0, 0.0]</tspan>
<tspan x="762.5" dy="4.86">[0.0, 0.75, 0.25, 0.0, 0.0]</tspan>
<tspan x="762.5" dy="4.86">[0.0, 0.75, 0.25, 0.0, 0.0]</tspan>
<tspan x="762.5" dy="4.86">[0.25, 0.5, 0.25, 0.0, 0.0]</tspan>
<tspan x="762.5" dy="4.86">[0.0, 0.5, 0.25, 0.0, 0.25]</tspan>
<tspan x="762.5" dy="4.86">[0.75, 0.0, 0.0, 0.25, 0.0]</tspan>
<tspan x="762.5" dy="4.86">[1.0, 0.0, 0.0, 0.0, 0.0]</tspan>
<tspan x="762.5" dy="4.86">[0.25, 0.25, 0.5, 0.0, 0.0]</tspan>
<tspan x="762.5" dy="4.86">[1.0, 0.0, 0.0, 0.0, 0.0]</tspan>
<tspan x="762.5" dy="4.86">[1.0, 0.0, 0.0, 0.0, 0.0]</tspan>
<tspan x="762.5" dy="4.86">[1.0, 0.0, 0.0, 0.0, 0.0]</tspan>
<tspan x="762.5" dy="4.86">[1.0, 0.0, 0.0, 0.0, 0.0]</tspan>
<tspan x="762.5" dy="4.86">[0.0, 1.0, 0.0, 0.0, 0.0]</tspan>
<tspan x="762.5" dy="4.86">[1.0, 0.0, 0.0, 0.0, 0.0]</tspan>
<tspan x="762.5" dy="4.86">[1.0, 0.0, 0.0, 0.0, 0.0]</tspan>
<tspan x="762.5" dy="4.86">[1.0, 0.0, 0.0, 0.0, 0.0]]</tspan>
</text>
</g>

<g id="node-18">
<rect class="box leaf" x="856" y="587.5" width="73" height="140"/>
<text class="lbl">
<tspan x="892.5" y="593.4">gini = 0.0</tspan>
<tspan x="892.5" dy="4.86">samples = 8.3%</tspan>
<tspan x="892.5" dy="4.86">value = [[0.0, 0.0, 1.0, 0.0, 0.0]</tspan>
<tspan x="892.5" dy="4.86">[0.0, 0.0, 1.0, 0.0, 0.0]</tspan>
<tspan x="892.5" dy="4.86">[0.0, 1.0, 0.0, 0.0, 0.0]</tspan>
<tspan x="892.5" dy="4.86">[0.0, 1.0, 0.0, 0.0, 0.0]</tspan>
<tspan x="892.5" dy="4.86">[0.0, 0.0, 1.0, 0.0, 0.0]</tspan>
<tspan x="892.5" dy="4.86">[0.0, 0.0, 0.0, 1.0, 0.0]</tspan>
<tspan x="892.5" dy="4.86">[0.0, 0.0, 0.0, 1.0, 0.0]</tspan>
<tspan x="892.5" dy="4.86">[0.0, 0.0, 0.0, 1.0, 0.0]</tspan>
<tspan x="892.5" dy="4.86">[0.0, 1.0, 0.0, 0.0, 0.0]</tspan>
<tspan x="892.5" dy="4.86">[0.0, 0.0, 1.0, 0.0, 0.0]</tspan>
<tspan x="892.5" dy="4.86">[0.0, 1.0, 0.0, 0.0, 0.0]</tspan>
<tspan x="892.5" dy="4.86">[0.0, 1.0, 0.0, 0.0, 0.0]</tspan>
<tspan x="892.5" dy="4.86">[1.0, 0.0, 0.0, 0.0, 0.0]</tspan>
<tspan x="892.5" dy="4.86">[1.0, 0.0, 0.0, 0.0, 0.0]</tspan>
<tspan x="892.5" dy="4.86">[0.0, 1.0, 0.0, 0.0, 0.0]</tspan>
<tspan x="892.5" dy="4.86">[0.0, 0.0, 1.0, 0.0, 0.0]</tspan>
<tspan x="892.5" dy="4.86">[0.0, 0.0, 1.0, 0.0, 0.0]</tspan>
<tspan x="892.5" dy="4.86">[1.0, 0.0, 0.0, 0.0, 0.0]</tspan>
<tspan x="892.5" dy="4.86">[0.0, 0.0, 0.0, 0.0, 1.0]</tspan>
<tspan x="892.5" dy="4.86">[1.0, 0.0, 0.0, 0.0, 0.0]</tspan>
<tspan x="892.5" dy="4.86">[0.0, 0.0, 0.0, 0.0, 1.0]</tspan>
<tspan x="892.5" dy="4.86">[1.0, 0.0, 0.0, 0.0, 0.0]</tspan>
<tspan x="892.5" dy="4.86">[1.0, 0.0, 0.0, 0.0, 0.0]</tspan>
<tspan x="892.5" dy="4.86">[1.0, 0.0, 0.0, 0.0, 0.0]</tspan>
<tspan x="892.5" dy="4.86">[0.0, 1.0, 0.0, 0.0, 0.0]</tspan>
<tspan x="892.5" dy="4.86">[1.0, 0.0, 0.0, 0.0, 0.0]]</tspan>
</text>
</g>

<g id="node-19">
<rect class="box" x="660.5" y="730.5" width="74" height="144" fill="#eeac7c"/>
<text class="lbl">
<tspan x="697.5" y="736">mean_slight &lt;= 0.099</tspan>
<tspan x="697.5" dy="4.86">gini = 0.217</tspan>
<tspan x="697.5" dy="4.86">samples = 16.7%</tspan>
<tspan x="697.5" dy="4.86">value = [[0.0, 1.0, 0.0, 0.0, 0.0]</tspan>
<tspan x="697.5" dy="4.86">[0.0, 0.667, 0.333, 0.0, 0.0]</tspan>
<tspan x="697.5" dy="4.86">[0.0, 1.0, 0.0, 0.0, 0.0]</tspan>
<tspan x="697.5" dy="4.86">[1.0, 0.0, 0.0, 0.0, 0.0]</tspan>
<tspan x="697.5" dy="4.86">[0.0, 1.0, 0.0, 0.0, 0.0]</tspan>
<tspan x="697.5" dy="4.86">[0.0, 0.0, 0.0, 1.0, 0.0]</tspan>
<tspan x="697.5" dy="4.86">[0.0, 0.0, 0.667, 0.333, 0.0]</tspan>
<tspan x="697.5" dy="4.86">[0.0, 1.0, 0.0, 0.0, 0.0]</tspan>
<tspan x="697.5" dy="4.86">[1.0, 0.0, 0.0, 0.0, 0.0]</tspan>
<tspan x="697.5" dy="4.86">[0.0, 0.667, 0.333, 0.0, 0.0]</tspan>
<tspan x="697.5" dy="4.86">[1.0, 0.0, 0.0, 0.0, 0.0]</tspan>
<tspan x="697.5" dy="4.86">[0.0, 1.0, 0.0, 0.0, 0.0]</tspan>
<tspan x="697.5" dy="4.86">[0.0, 1.0, 0.0, 0.0, 0.0]</tspan>
<tspan x="697.5" dy="4.86">[0.0, 0.667, 0.333, 0.0, 0.0]</tspan>
<tspan x="697.5" dy="4.86">[0.0, 0.667, 0.333, 0.0, 0.0]</tspan>
<tspan x="697.5" dy="4.86">[1.0, 0.0, 0.0, 0.0, 0.0]</tspan>
<tspan x="697.5" dy="4.86">[1.0, 0.0, 0.0, 0.0, 0.0]</tspan>
<tspan x="697.5" dy="4.86">[0.0, 0.333, 0.667, 0.0, 0.0]</tspan>
<tspan x="697.5" dy="4.86">[1.0, 0.0, 0.0, 0.0, 0.0]</tspan>
<tspan x="697.5" dy="4.86">[1.0, 0.0, 0.0, 0.0, 0.0]</tspan>
<tspan x="697.5" dy="4.86">[1.0, 0.0, 0.0, 0.0, 0.0]</tspan>
<tspan x="697.5" dy="4.86">[1.0, 0.0, 0.0, 0.0, 0.0]</tspan>
<tspan x="697.5" dy="4.86">[0.0, 1.0, 0.0, 0.0, 0.0]</tspan>
<tspan x="697.5" dy="4.86">[1.0, 0.0, 0.0, 0.0, 0.0]</tspan>
<tspan x="697.5" dy="4.86">[1.0, 0.0, 0.0, 0.0, 0.0]</tspan>
<tspan x="697.5" dy="4.86">[1.0, 0.0, 0.0, 0.0, 0.0]]</tspan>
</text>
</g>

<g id="node-20">
<rect class="box leaf" x="791" y="732.5" width="73" height="140"/>
<text class="lbl">
<tspan x="827.5" y="738.4">gini = 0.0</tspan>
<tspan x="827.5" dy="4.86">samples = 8.3%</tspan>
<tspan x="827.5" dy="4.86">value = [[0.0, 0.0, 1.0, 0.0, 0.0]</tspan>
<tspan x="827.5" dy="4.86">[1.0, 0.0, 0.0, 0.0, 0.0]</tspan>
<tspan x="827.5" dy="4.86">[0.0, 0.0, 1.0, 0.0, 0.0]</tspan>
<tspan x="827.5" dy="4.86">[0.0, 1.0, 0.0, 0.0, 0.0]</tspan>
<tspan x="827.5" dy="4.86">[1.0, 0.0, 0.0, 0.0, 0.0]</tspan>
<tspan x="827.5" dy="4.86">[0.0, 0.0, 1.0, 0.0, 0.0]</tspan>
<tspan x="827.5" dy="4.86">[0.0, 1.0, 0.0, 0.0, 0.0]</tspan>
<tspan x="827.5" dy="4.86">[0.0, 0.0, 1.0, 0.0, 0.0]</tspan>
<tspan x="827.5" dy="4.86">[0.0, 0.0, 1.0, 0.0, 0.0]</tspan>
<tspan x="827.5" dy="4.86">[1.0, 0.0, 0.0, 0.0, 0.0]</tspan>
<tspan x="827.5" dy="4.86">[0.0, 0.0, 1.0, 0.0, 0.0]</tspan>
<tspan x="827.5" dy="4.86">[0.0, 0.0, 1.0, 0.0, 0.0]</tspan>
<tspan x="827.5" dy="4.86">[0.0, 0.0, 1.0, 0.0, 0.0]</tspan>
<tspan x="827.5" dy="4.86">[1.0, 0.0, 0.0, 0.0, 0.0]</tspan>
<tspan x="827.5" dy="4.86">[0.0, 0.0, 0.0, 0.0, 1.0]</tspan>
<tspan x="827.5" dy="4.86">[0.0, 0.0, 0.0, 1.0, 0.0]</tspan>
<tspan x="827.5" dy="4.86">[1.0, 0.0, 0.0, 0.0, 0.0]</tspan>
<tspan x="827.5" dy="4.86">[1.0, 0.0, 0.0, 0.0, 0.0]</tspan>
<tspan x="827.5" dy="4.86">[1.0, 0.0, 0.0, 0.0, 0.0]</tspan>
<tspan x="827.5" dy="4.86">[1.0, 0.0, 0.0, 0.0, 0.0]</tspan>
<tspan x="827.5" dy="4.86">[1.0, 0.0, 0.0, 0.0, 0.0]</tspan>
<tspan x="827.5" dy="4.86">[1.0, 0.0, 0.0, 0.0, 0.0]</tspan>
<tspan x="827.5" dy="4.86">[0.0, 1.0, 0.0, 0.0, 0.0]</tspan>
<tspan x="827.5" dy="4.86">[1.0, 0.0, 0.0, 0.0, 0.0]</tspan>
<tspan x="827.5" dy="4.86">[1.0, 0.0, 0.0, 0.0, 0.0]</tspan>
<tspan x="827.5" dy="4.86">[1.0, 0.0, 0.0, 0.0, 0.0]]</tspan>
</text>
</g>

<g id="node-21">
<rect class="box leaf" x="596" y="877.5" width="73" height="140"/>
<text class="lbl">
<tspan x="632.5" y="883.4">gini = 0.0</tspan>
<tspan x="632.5" dy="4.86">samples = 8.3%</tspan>
<tspan x="632.5" dy="4.86">value = [[0.0, 1.0, 0.0, 0.0, 0.0]</tspan>
<tspan x="632.5" dy="4.86">[0.0, 1.0, 0.0, 0.0, 0.0]</tspan>
<tspan x="632.5" dy="4.86">[0.0, 1.0, 0.0, 0.0, 0.0]</tspan>
<tspan x="632.5" dy="4.86">[1.0, 0.0, 0.0, 0.0, 0.0]</tspan>
<tspan x="632.5" dy="4.86">[0.0, 1.0, 0.0, 0.0, 0.0]</tspan>
<tspan x="632.5" dy="4.86">[0.0, 0.0, 0.0, 1.0, 0.0]</tspan>
<tspan x="632.5" dy="4.86">[0.0, 0.0, 1.0, 0.0, 0.0]</tspan>
<tspan x="632.5" dy="4.86">[0.0, 1.0, 0.0, 0.0, 0.0]</tspan>
<tspan x="632.5" dy="4.86">[1.0, 0.0, 0.0, 0.0, 0.0]</tspan>
<tspan x="632.5" dy="4.86">[0.0, 1.0, 0.0, 0.0, 0.0]</tspan>
<tspan x="632.5" dy="4.86">[1.0, 0.0, 0.0, 0.0, 0.0]</tspan>
<tspan x="632.5" dy="4.86">[0.0, 1.0, 0.0, 0.0, 0.0]</tspan>
<tspan x="632.5" dy="4.86">[0.0, 1.0, 0.0, 0.0, 0.0]</tspan>
<tspan x="632.5" dy="4.86">[0.0, 1.0, 0.0, 0.0, 0.0]</tspan>
<tspan x="632.5" dy="4.86">[0.0, 1.0, 0.0, 0.0, 0.0]</tspan>
<tspan x="632.5" dy="4.86">[1.0, 0.0, 0.0, 0.0, 0.0]</tspan>
<tspan x="632.5" dy="4.86">[1.0, 0.0, 0.0, 0.0, 0.0]</tspan>
<tspan x="632.5" dy="4.86">[0.0, 0.0, 1.0, 0.0, 0.0]</tspan>
<tspan x="632.5" dy="4.86">[1.0, 0.0, 0.0, 0.0, 0.0]</tspan>
<tspan x="632.5" dy="4.86">[1.0, 0.0, 0.0, 0.0, 0.0]</tspan>
<tspan x="632.5" dy="4.86">[1.0, 0.0, 0.0, 0.0, 0.0]</tspan>
<tspan x="632.5" dy="4.86">[1.0, 0.0, 0.0, 0.0, 0.0]</tspan>
<tspan x="632.5" dy="4.86">[0.0, 1.0, 0.0, 0.0, 0.0]</tspan>
<tspan x="632.5" dy="4.86">[1.0, 0.0, 0.0, 0.0, 0.0]</tspan>
<tspan x="632.5" dy="4.86">[1.0, 0.0, 0.0, 0.0, 0.0]</tspan>
<tspan x="632.5" dy="4.86">[1.0, 0.0, 0.0, 0.0, 0.0]]</tspan>
</text>
</g>

<g id="node-22">
<rect class="box leaf" x="726" y="877.5" width="73" height="140"/>
<text class="lbl">
<tspan x="762.5" y="883.4">gini = 0.0</tspan>
<tspan x="762.5" dy="4.86">samples = 8.3%</tspan>
<tspan x="762.5" dy="4.86">value = [[0.0, 1.0, 0.0, 0.0, 0.0]</tspan>
<tspan x="762.5" dy="4.86">[0.0, 0.0, 1.0, 0.0, 0.0]</tspan>
<tspan x="762.5" dy="4.86">[0.0, 1.0, 0.0, 0.0, 0.0]</tspan>
<tspan x="762.5" dy="4.86">[1.0, 0.0, 0.0, 0.0, 0.0]</tspan>
<tspan x="762.5" dy="4.86">[0.0, 1.0, 0.0, 0.0, 0.0]</tspan>
<tspan x="762.5" dy="4.86">[0.0, 0.0, 0.0, 1.0, 0.0]</tspan>
<tspan x="762.5" dy="4.86">[0.0, 0.0, 0.0, 1.0, 0.0]</tspan>
<tspan x="762.5" dy="4.86">[0.0, 1.0, 0.0, 0.0, 0.0]</tspan>
<tspan x="762.5" dy="4.86">[1.0, 0.0, 0.0, 0.0, 0.0]</tspan>
<tspan x="762.5" dy="4.86">[0.0, 0.0, 1.0, 0.0, 0.0]</tspan>
<tspan x="762.5" dy="4.86">[1.0, 0.0, 0.0, 0.0, 0.0]</tspan>
<tspan x="762.5" dy="4.86">[0.0, 1.0, 0.0, 0.0, 0.0]</tspan>
<tspan x="762.5" dy="4.86">[0.0, 1.0, 0.0, 0.0, 0.0]</tspan>
<tspan x="762.5" dy="4.86">[0.0, 0.0, 1.0, 0.0, 0.0]</tspan>
<tspan x="762.5" dy="4.86">[0.0, 0.0, 1.0, 0.0, 0.0]</tspan>
<tspan x="762.5" dy="4.86">[1.0, 0.0, 0.0, 0.0, 0.0]</tspan>
<tspan x="762.5" dy="4.86">[1.0, 0.0, 0.0, 0.0, 0.0]</tspan>
<tspan x="762.5" dy="4.86">[0.0, 1.0, 0.0, 0.0, 0.0]</tspan>
<tspan x="762.5" dy="4.86">[1.0, 0.0, 0.0, 0.0, 0.0]</tspan>
<tspan x="762.5" dy="4.86">[1.0, 0.0, 0.0, 0.0, 0.0]</tspan>
<tspan x="762.5" dy="4.86">[1.0, 0.0, 0.0, 0.0, 0.0]</tspan>
<tspan x="762.5" dy="4.86">[1.0, 0.0, 0.0, 0.0, 0.0]</tspan>
<tspan x="762.5" dy="4.86">[0.0, 1.0, 0.0, 0.0, 0.0]</tspan>
<tspan x="762.5" dy="4.86">[1.0, 0.0, 0.0, 0.0, 0.0]</tspan>
<tspan x="762.5" dy="4.86">[1.0, 0.0, 0.0, 0.0, 0.0]</tspan>
<tspan x="762.5" dy="4.86">[1.0, 0.0, 0.0, 0.0, 0.0]]</tspan>
</text>
</g>
</svg>
